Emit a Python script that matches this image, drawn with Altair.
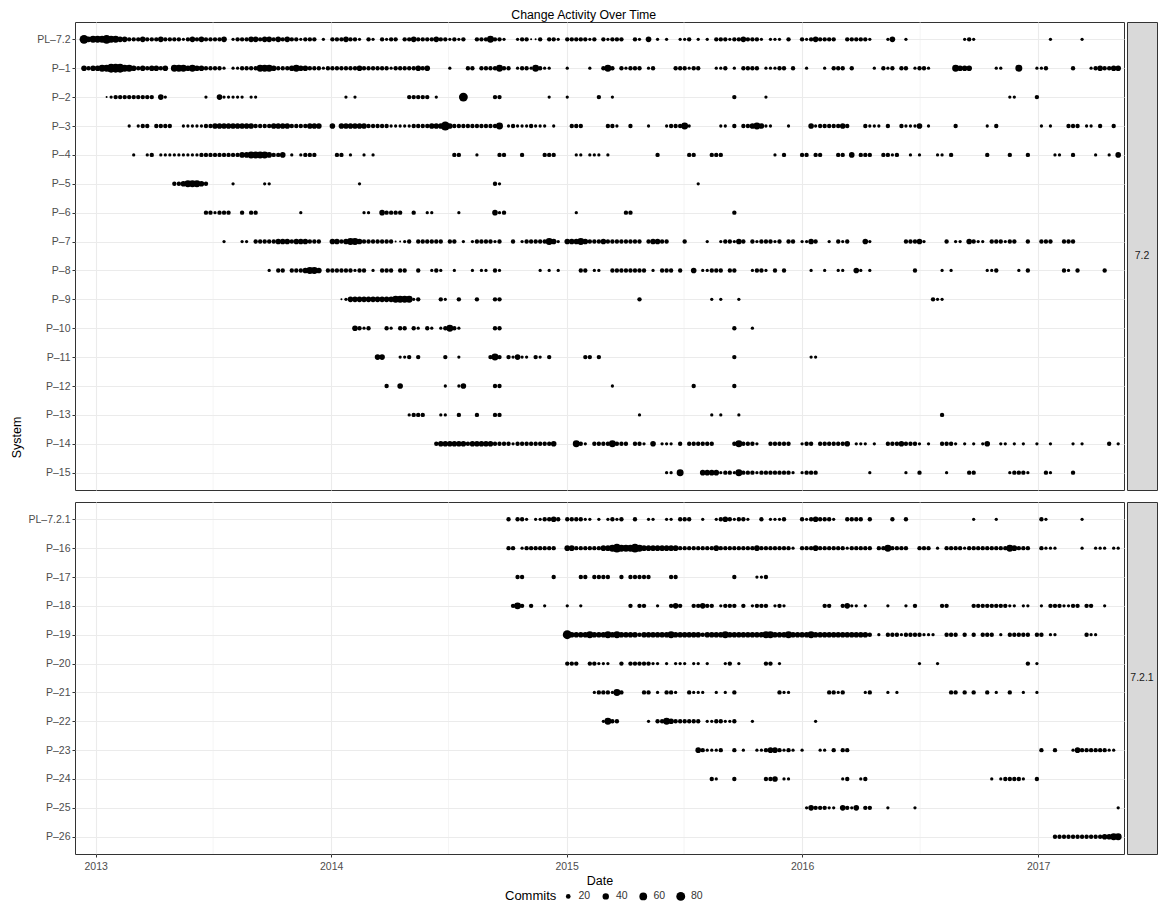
import altair as alt
import pandas as pd

FONT = "Liberation Sans"
BASE_DATE = "2012-12-14"          # week 0 of the weekly commit series
LEVELS = {"1": 1, "2": 8, "3": 17, "4": 30, "5": 48, "6": 80}   # size code -> commits

# ---- weekly commit codes per system: (first week index, codes) ----
PL_7_2 = [(0, "6"), (1, "455565544"), (10, "3334333433332343433334"), (33, "2333443443434332333"),
          (53, "2"), (55, "3334332.32.3233"), (71, "33433334332323"), (87, "3335332"), (96, "233113"),
          (103, "332"), (107, "3333323"), (115, "32333"), (122, "32"), (125, "4"), (127, "2.2"),
          (132, "223"), (136, "2.2"), (140, "33323343332"), (152, "222"), (156, "3"), (159, "32343333"),
          (169, "333332"), (178, "24"), (182, "2"), (195, "232"), (214, "2"), (221, "2")]
P_1 = [(0, "4344556665543434434"), (20, "55545443333"), (31, "2"), (33, "2"),
       (34, "23333" "5554" "333" "4544" "33323333333" "4" "333333233333434"),
       (81, "2"), (85, "33"), (88, "3333533"), (96, "2332"), (100, "5"), (101, "322"), (107, "2"),
       (112, "2"), (115, "353"), (119, "32333"), (125, "23"), (131, "333233"), (140, "223"), (144, "2"),
       (146, "3333"), (151, "22"), (153, "233"), (157, "3"), (160, "2"), (164, "2"), (166, "333"),
       (170, "3"), (175, "2"), (177, "323"), (181, "33"), (184, "2332"), (193, "5444"), (202, "22"),
       (207, "5"), (211, "223"), (219, "3"), (223, "2343344")]
P_2 = [(5, "12333333333"), (17, "42"), (27, "2"), (30, "422222"), (37, "22"), (58, "2"), (60, "2"),
       (72, "33333"), (78, "2"), (84, "6"), (91, "33"), (103, "2"), (107, "2"), (114, "3"), (117, "2"),
       (144, "3"), (151, "2"), (205, "22"), (211, "3")]
P_3 = [(10, "2"), (12, "233"), (16, "3333"), (22, "2222233444444444333344443333444"), (55, "4"),
       (57, "44444433333222223"), (74, "333444"), (80, "6"), (81, "43333333333"), (92, "5"),
       (94, "232223222"), (104, "2"), (108, "333"), (116, "332"), (121, "3"), (125, "2"),
       (129, "233352"), (141, "22"), (144, "3"), (146, "33454"), (151, "22"), (156, "2"),
       (161, "423333343"), (173, "3222"), (178, "3"), (181, "32224"), (187, "2"), (193, "3"),
       (200, "2"), (202, "3"), (212, "2"), (214, "2"), (218, "333"), (222, "22"), (225, "3"), (228, "3")]
P_4 = [(11, "2"), (14, "23"), (17, "2222222223"), (27, "333333334455554334"), (46, "2"), (48, "2333"),
       (56, "33"), (59, "2"), (62, "2"), (64, "2"), (82, "33"), (87, "2"), (92, "33"), (97, "3"),
       (102, "333"), (109, "22"), (112, "222"), (116, "2"), (127, "3"), (134, "33"), (139, "333"),
       (153, "2"), (155, "3"), (159, "33"), (162, "33"), (167, "33"), (170, "4"), (172, "333"),
       (177, "3323"), (183, "2"), (185, "2"), (189, "22"), (192, "3"), (200, "3"), (205, "3"),
       (209, "3"), (215, "22"), (219, "3"), (224, "2"), (227, "2"), (229, "4")]
P_5 = [(20, "33455543"), (33, "2"), (40, "22"), (61, "2"), (91, "32"), (136, "2")]
P_6 = [(27, "332333"), (35, "3"), (37, "33"), (48, "2"), (62, "22"), (66, "4"), (67, "3333"), (73, "3"),
       (76, "22"), (83, "2"), (91, "423"), (109, "2"), (120, "33"), (144, "3")]
P_7 = [(31, "2"), (35, "22"), (38, "333334443444333"), (55, "44345543333333"), (69, "1123"),
       (74, "333333"), (81, "33"), (84, "2"), (86, "2333323"), (95, "3"), (97, "233333542"),
       (107, "44454333433333333"), (125, "34433"), (133, "3"), (138, "2"), (141, "233243"),
       (148, "3233323"), (156, "33"), (159, "2243"), (165, "2"), (167, "323"), (173, "42"),
       (182, "33342"), (191, "3"), (193, "22"), (196, "4322"), (201, "333233"), (209, "3"),
       (212, "333"), (217, "333")]
P_8 = [(41, "2"), (43, "33"), (46, "3334554"), (54, "333333"), (60, "233"), (64, "2"), (66, "333"),
       (70, "33"), (74, "3"), (77, "232"), (82, "2"), (86, "2"), (88, "22"), (91, "32"), (101, "2"),
       (103, "2"), (105, "2"), (110, "33"), (113, "22"), (117, "33333333"), (126, "2"), (128, "333"),
       (132, "3"), (135, "4"), (137, "22333"), (143, "33"), (148, "2332"), (153, "3"), (155, "3"),
       (161, "2"), (164, "2"), (167, "22"), (171, "42"), (174, "2"), (184, "3"), (190, "2"), (192, "2"),
       (200, "223"), (207, "2"), (209, "3"), (217, "32"), (220, "3"), (226, "3")]
P_9 = [(57, "12" "44444444445555" "23"), (79, "32"), (83, "3"), (87, "3"), (91, "33"), (123, "3"),
       (139, "2"), (141, "2"), (145, "2"), (188, "322")]
P_10 = [(60, "4323"), (67, "32"), (70, "33"), (73, "3"), (74, "2"), (76, "32"), (79, "23532"),
        (91, "33"), (144, "3"), (148, "2")]
P_11 = [(65, "44"), (70, "223"), (74, "3"), (80, "3"), (83, "2"), (90, "353"), (94, "32422"),
        (100, "32"), (103, "3"), (111, "33"), (114, "3"), (144, "3"), (161, "22")]
P_12 = [(67, "3"), (70, "4"), (80, "2"), (83, "24"), (91, "33"), (117, "2"), (135, "3"), (144, "3")]
P_13 = [(72, "2333"), (79, "22"), (83, "3"), (87, "3"), (91, "33"), (123, "2"), (139, "2"), (141, "2"),
        (145, "2"), (190, "3")]
P_14 = [(78, "344444434444433332333333334"), (109, "532"), (113, "33335333"), (122, "332.4"),
        (128, "222.3"), (134, "333333"), (144, "353332"), (152, "33333"), (159, "233"),
        (163, "3333334"), (171, "222"), (175, "2"), (178, "33343332"), (187, "2"), (190, "3332"),
        (195, "2"), (197, "2"), (199, "24"), (203, "22"), (206, "2"), (208, "2"), (211, "2"), (214, "2"),
        (219, "2"), (221, "2"), (227, "3"), (229, "2")]
P_15 = [(129, "22"), (132, "5"), (137, "44442332" "5" "3332333"), (153, "33332"), (159, "2333"),
        (174, "2"), (182, "2"), (185, "3"), (191, "2"), (196, "33"), (205, "23332"), (213, "32"), (219, "3")]

PL_7_2_1 = [(94, "3"), (96, "332"), (100, "223343"), (107, "333322"), (114, "2"), (116, "2323"),
            (122, "3"), (125, "22"), (129, "22"), (132, "333"), (137, "2"), (140, "23432332"),
            (150, "3"), (152, "2"), (153, "223"), (159, "32343332"), (169, "3333"), (174, "3"),
            (179, "3"), (182, "3"), (197, "2"), (202, "2"), (212, "32"), (221, "2")]
P_16 = [(94, "33"), (97, "23333333"),
        (107, "443333" "3344" "565" "5565" "44444444" "333333334333333334333"),
        (153, "33332"), (159, "3334333333233333"), (176, "3353333"), (185, "333"), (189, "2"),
        (191, "33332333333333" "54" "333"), (212, "3222"), (221, "2"), (224, "222"), (228, "22")]
P_17 = [(96, "33"), (104, "3"), (110, "33"), (113, "3333"), (119, "3"), (121, "33333"), (130, "33"),
        (144, "3"), (149, "223")]
P_18 = [(95, "353"), (99, "3"), (102, "2"), (107, "2"), (110, "2"), (121, "3"), (123, "33"), (127, "2"),
        (130, "343"), (135, "33433"), (141, "2333"), (146, "3"), (148, "2333"), (153, "232"),
        (164, "33"), (168, "3422"), (173, "2"), (178, "2"), (182, "2"), (184, "3"), (190, "33"),
        (197, "3333333322"), (208, "22"), (212, "2"), (214, "3332233"), (222, "33"), (226, "2")]
P_19 = [(107, "6" "4444" "5" "444" "5" "4" "5" "44443444444" "5" "44444434444" "5" "44444444" "55"),
        (153, "4445444454444444444443"), (176, "2"), (178, "33323333222"), (191, "333"), (195, "3"),
        (197, "3"), (199, "333"), (203, "2"), (205, "33333"), (211, "33"), (214, "22"), (222, "322")]
P_20 = [(107, "333"), (112, "33222"), (119, "3"), (121, "333332"), (127, "2"), (129, "2"), (131, "222"),
        (135, "22"), (138, "2"), (142, "23"), (145, "2"), (151, "33"), (154, "2"), (185, "2"), (189, "2"),
        (209, "3"), (211, "2")]
P_21 = [(113, "2333253"), (124, "33"), (127, "2"), (129, "332"), (134, "3222"), (140, "2"), (142, "2"),
        (144, "3"), (154, "322"), (165, "3323"), (173, "23"), (178, "2"), (180, "2"), (192, "33"),
        (195, "3"), (197, "3"), (200, "3"), (202, "2"), (205, "3"), (208, "2"), (211, "2")]
P_22 = [(115, "2533"), (125, "2"), (127, "3354"), (131, "33333"), (136, "3"), (138, "2233223"),
        (148, "2"), (162, "2")]
P_23 = [(136, "43222"), (141, "3"), (144, "3"), (146, "2"), (149, "2234"), (153, "43232"), (159, "2"),
        (163, "22"), (166, "3"), (168, "33"), (212, "3"), (215, "3"), (219, "2433333322")]
P_24 = [(139, "32"), (144, "3"), (151, "33"), (153, "4"), (155, "22"), (168, "23"), (172, "23"),
        (201, "2"), (203, "233332"), (211, "3")]
P_25 = [(160, "2433322"), (168, "4324"), (173, "33"), (178, "2"), (184, "2"), (229, "2")]
P_26 = [(215, "33333333333" "4455")]

RELEASE_72 = "7.2"
RELEASE_721 = "7.2.1"
SYSTEMS_72 = ["PL–7.2", "P–1", "P–2", "P–3", "P–4", "P–5", "P–6", "P–7", "P–8", "P–9", "P–10",
              "P–11", "P–12", "P–13", "P–14", "P–15"]
SERIES_72 = [PL_7_2, P_1, P_2, P_3, P_4, P_5, P_6, P_7, P_8, P_9, P_10, P_11, P_12, P_13, P_14, P_15]
SYSTEMS_721 = ["PL–7.2.1", "P–16", "P–17", "P–18", "P–19", "P–20", "P–21", "P–22", "P–23", "P–24",
               "P–25", "P–26"]
SERIES_721 = [PL_7_2_1, P_16, P_17, P_18, P_19, P_20, P_21, P_22, P_23, P_24, P_25, P_26]

YEARS = [2013, 2014, 2015, 2016, 2017]
MINOR_GRID = ["2013-07-02T00:00:00", "2014-07-02T00:00:00", "2015-07-02T00:00:00", "2016-07-02T00:00:00"]
LEGEND_VALUES = [20, 40, 60, 80]


def build(systems, series, release):
    base = pd.Timestamp(BASE_DATE)
    recs = {}
    for name, segs in zip(systems, series):
        for start, codes in segs:
            for j, c in enumerate(codes):
                if c in LEVELS:
                    d = base + pd.Timedelta(days=7 * (start + j))
                    recs[(name, d)] = {"System": name, "Release": release,
                                       "Date": d.strftime("%Y-%m-%dT00:00:00"), "Commits": LEVELS[c]}
    return pd.DataFrame(list(recs.values()))


df72 = build(SYSTEMS_72, SERIES_72, RELEASE_72)
df721 = build(SYSTEMS_721, SERIES_721, RELEASE_721)
minor_df = pd.DataFrame({"Date": MINOR_GRID})

x_scale = alt.Scale(domain=[alt.DateTime(year=2012, month=11, date=30),
                            alt.DateTime(year=2017, month=5, date=14)])
size_scale = alt.Scale(domain=[0, 100], range=[3, 98])
W = 1049
STRIP_W = 30
LABEL_SIZE = 10.5


def x_axis(show):
    kw = dict(values=[alt.DateTime(year=y, month=1, date=1) for y in YEARS], format="%Y",
              grid=True, gridColor="#EBEBEB", gridWidth=1.1, domain=False,
              labelFont=FONT, labelFontSize=LABEL_SIZE, labelColor="#4D4D4D", labelPadding=4,
              tickColor="#333333", tickSize=3, tickWidth=1,
              titleFont=FONT, titleFontSize=12.5, titleFontWeight="normal", titleColor="#000000",
              titlePadding=3)
    if show:
        kw["title"] = "Date"
    else:
        kw.update(labels=False, ticks=False, title="")
    return alt.Axis(**kw)


def y_axis(show_title):
    kw = dict(grid=True, gridColor="#EBEBEB", gridWidth=1.1, domain=False,
              labelFont=FONT, labelFontSize=LABEL_SIZE, labelColor="#4D4D4D", labelPadding=2,
              tickColor="#333333", tickSize=3, tickWidth=1, minExtent=47, maxExtent=47,
              titleFont=FONT, titleFontSize=12.5, titleFontWeight="normal", titleColor="#000000")
    if show_title:
        kw.update(title="System", titleY=415, titlePadding=4.5)
    else:
        kw["title"] = ""
    return alt.Axis(**kw)


def panel(df, systems, height, show_x, show_ytitle):
    xa = x_axis(show_x)
    minor = alt.Chart(minor_df).mark_rule(color="#EBEBEB", strokeWidth=0.55).encode(
        x=alt.X("Date:T", scale=x_scale, axis=xa))
    pts = alt.Chart(df).mark_circle(color="#000000", opacity=1, strokeWidth=0).encode(
        x=alt.X("Date:T", scale=x_scale, axis=xa),
        y=alt.Y("System:N", scale=alt.Scale(type="point", domain=systems, padding=0.6),
                axis=y_axis(show_ytitle)),
        size=alt.Size("Commits:Q", scale=size_scale,
                      legend=alt.Legend(title="Commits", values=LEGEND_VALUES, orient="none",
                                        legendX=430, legendY=869, direction="horizontal",
                                        titleOrient="left")),
    )
    return alt.layer(minor, pts).properties(width=W, height=height)


def strip(label, height):
    return alt.Chart(pd.DataFrame({"Release": [label]})).mark_text(
        font=FONT, fontSize=LABEL_SIZE, color="#1A1A1A").encode(text="Release:N").properties(
        width=STRIP_W, height=height,
        view=alt.ViewBackground(fill="#D9D9D9", stroke="#333333", strokeWidth=1))


top = panel(df72, SYSTEMS_72, 468, False, True)
bottom = panel(df721, SYSTEMS_721, 352, True, False)

chart = alt.concat(
    top, strip(RELEASE_72, 468), bottom, strip(RELEASE_721, 352),
    columns=2, spacing={"row": 10, "column": 1},
).resolve_scale(y="independent", size="shared").properties(
    title=alt.TitleParams("Change Activity Over Time", anchor="middle", font=FONT, fontSize=12.3,
                          fontWeight="normal", color="#000000", offset=0),
    padding={"left": 2, "top": 0, "right": 0, "bottom": 0},
    background="#FFFFFF",
).configure_view(stroke="#333333", strokeWidth=1).configure_legend(
    titleFont=FONT, titleFontSize=13, titleFontWeight="normal", titleColor="#000000",
    labelFont=FONT, labelFontSize=LABEL_SIZE, labelColor="#333333", symbolFillColor="#000000",
    symbolStrokeWidth=0, symbolOpacity=1, labelOffset=5, columnPadding=9.5, titlePadding=6,
)

chart.save("out.html", embed_options={"renderer": "svg", "actions": False})
